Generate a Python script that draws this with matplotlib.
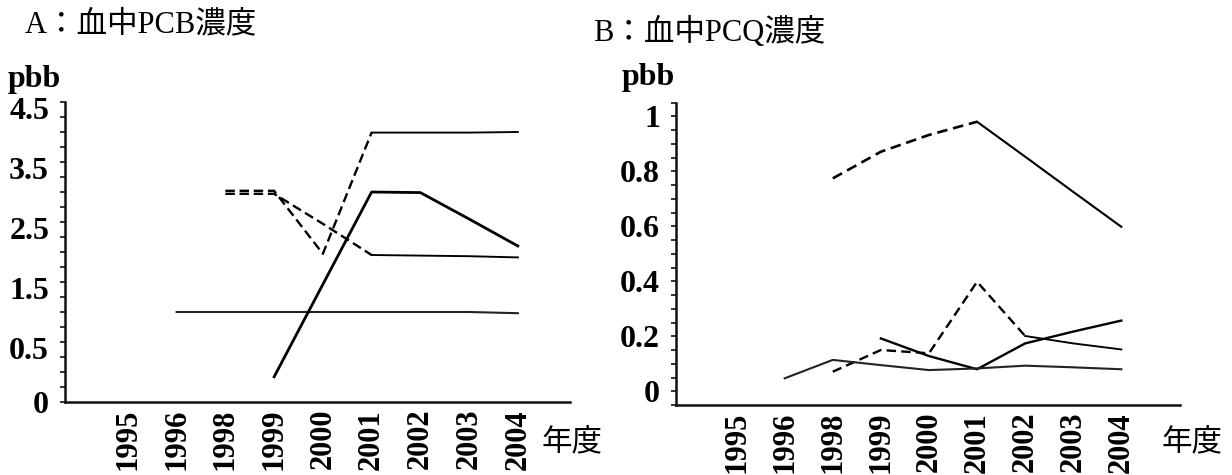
import numpy as np
import matplotlib
matplotlib.use("Agg")
import matplotlib.pyplot as plt
from matplotlib.transforms import ScaledTranslation
from matplotlib.ticker import FixedLocator

nan = np.nan
years = ['1995', '1996', '1998', '1999', '2000', '2001', '2002', '2003', '2004']

# Panel A: PCB (pbb)
pcb_flat = [nan, 1.0, 1.0, 1.0, 1.0, 1.0, 1.0, 1.0, 0.98]
pcb_rise = [nan, nan, nan, -0.08, 1.46, 3.0, 2.99, 2.55, 2.1]
pcb_dash_a = [nan, nan, 3.02, 3.02, 1.97, 3.99, 3.99, 3.99, 4.0]
pcb_dash_b = [nan, nan, 2.97, 2.97, 2.47, 1.95, 1.94, 1.93, 1.91]
pcb_ticks = [-0.5, 0.5, 1.5, 2.5, 3.5, 4.5]
pcb_ticklabels = ['0', '0.5', '1.5', '2.5', '3.5', '4.5']

# Panel B: PCQ (pbb)
pcq_top = [nan, nan, 0.774, 0.871, 0.932, 0.98, 0.853, 0.725, 0.598]
pcq_b = [nan, nan, 0.071, 0.15, 0.138, 0.398, 0.201, 0.174, 0.152]
pcq_c = [nan, nan, nan, 0.192, 0.128, 0.08, 0.174, 0.217, 0.257]
pcq_a = [nan, 0.047, 0.114, 0.095, 0.077, 0.083, 0.093, 0.087, 0.08]
pcq_ticks = [0, 0.2, 0.4, 0.6, 0.8, 1.0]
pcq_ticklabels = ['0', '0.2', '0.4', '0.6', '0.8', '1']

title_a = 'A：血中PCB濃度'
title_b = 'B：血中PCQ濃度'
unit = 'pbb'
xunit = '年度'

FAM = ['Liberation Serif', 'Noto Sans CJK JP']
W, H = 1232, 475
fig = plt.figure(figsize=(W / 100, H / 100), dpi=100)

x = np.arange(len(years))


def split_plot(ax, vals, brk, lw, color='black', dash=(4, 2)):
    """dashed up to index brk, solid after"""
    v = np.array(vals, dtype=float)
    d = v.copy(); d[brk + 1:] = nan
    s = v.copy(); s[:brk] = nan
    ax.plot(x, d, color=color, lw=lw, dashes=dash, solid_capstyle='butt')
    ax.plot(x, s, color=color, lw=lw * 0.8)


def style_axes(ax, xlim, ylim, ticks, labels, minor_step, lab_shift):
    ax.set_xlim(*xlim)
    ax.set_ylim(*ylim)
    for s in ['top', 'right']:
        ax.spines[s].set_visible(False)
    for s in ['left', 'bottom']:
        ax.spines[s].set_linewidth(1.8)
        ax.spines[s].set_color('#111111')
    ax.set_xticks(x)
    ax.set_xticklabels(years, rotation=90, fontsize=22, fontweight='bold',
                       family=FAM, va='top', ha='center')
    ax.tick_params(axis='x', length=0, pad=5)
    ax.set_yticks(ticks)
    ax.set_yticklabels(labels, fontsize=23, fontweight='bold', family=FAM)
    mins = np.arange(ylim[0], ylim[1] + 1e-6, minor_step)
    ax.yaxis.set_minor_locator(FixedLocator(mins))
    ax.tick_params(axis='y', which='both', direction='out', length=3.5,
                   width=1.2, color='#111111', pad=8)
    if lab_shift:
        for lab, t in zip(ax.get_yticklabels(), labels):
            if t != '0':
                lab.set_transform(lab.get_transform() +
                                  ScaledTranslation(0, -lab_shift / 100, fig.dpi_scale_trans))


# ---- Panel A ----
axA = fig.add_axes([65 / W, 1 - 402 / H, 505 / W, 300 / H])
axA.plot(x, pcb_flat, color='#222222', lw=1.5)
axA.plot(x, pcb_rise, color='black', lw=2.0)
split_plot(axA, pcb_dash_a, 5, 1.7)
split_plot(axA, pcb_dash_b, 5, 1.7)
style_axes(axA, (-1.29, 9.07), (-0.5, 4.5), pcb_ticks, pcb_ticklabels, 0.25, 6)

# ---- Panel B ----
axB = fig.add_axes([676 / W, 1 - 405 / H, 504 / W, 302.5 / H])
split_plot(axB, pcq_top, 5, 1.9, dash=(4, 2.2))
split_plot(axB, pcq_b, 6, 1.7, dash=(4, 2.2))
axB.plot(x, pcq_c, color='black', lw=1.7)
axB.plot(x, pcq_a, color='#222222', lw=1.5)
style_axes(axB, (-1.26, 9.22), (-0.05, 1.05), pcq_ticks, pcq_ticklabels, 0.05, 0)

# ---- texts ----
fig.text(25 / W, 1 - 25 / H, title_a, fontsize=22, family=FAM, ha='left', va='center')
fig.text(593 / W, 1 - 32 / H, title_b, fontsize=22, family=FAM, ha='left', va='center')
fig.text(8 / W, 1 - 79 / H, unit, fontsize=23, fontweight='bold', family=FAM, ha='left', va='center')
fig.text(622 / W, 1 - 77 / H, unit, fontsize=23, fontweight='bold', family=FAM, ha='left', va='center')
fig.text(572 / W, 1 - 443 / H, xunit, fontsize=22, family=FAM, ha='center', va='center')
fig.text(1192 / W, 1 - 443 / H, xunit, fontsize=22, family=FAM, ha='center', va='center')

fig.savefig('out.png', dpi=100, facecolor='white')
